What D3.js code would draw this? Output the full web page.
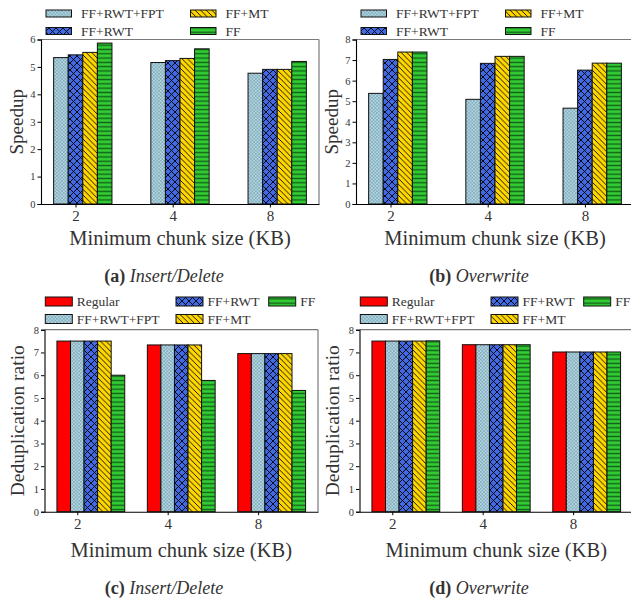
<!DOCTYPE html>
<html>
<head>
<meta charset="utf-8">
<script src="https://cdn.jsdelivr.net/npm/d3@7"></script>
<style>
  html, body { margin: 0; padding: 0; background: #fff; }
  svg { display: block; }
  text { font-family: "Liberation Serif", "Times New Roman", serif; fill: #333; }
</style>
</head>
<body>
<svg id="fig" width="631" height="603"></svg>
<script>
// Minimum chunk sizes (KB) on the x axis
const categories = ["2", "4", "8"];

// Speedup, Insert/Delete workload
const spInsRwtFpt = [5.34, 5.16, 4.77];
const spInsRwt    = [5.44, 5.23, 4.91];
const spInsMt     = [5.53, 5.31, 4.91];
const spInsFf     = [5.87, 5.66, 5.20];

// Speedup, Overwrite workload
const spOvwRwtFpt = [5.38, 5.09, 4.66];
const spOvwRwt    = [7.03, 6.84, 6.51];
const spOvwMt     = [7.39, 7.18, 6.85];
const spOvwFf     = [7.39, 7.18, 6.85];

// Deduplication ratio, Insert/Delete workload
const drInsRegular = [7.50, 7.33, 6.95];
const drInsRwtFpt  = [7.50, 7.33, 6.95];
const drInsRwt     = [7.50, 7.33, 6.95];
const drInsMt      = [7.50, 7.33, 6.95];
const drInsFf      = [6.00, 5.77, 5.33];

// Deduplication ratio, Overwrite workload
const drOvwRegular = [7.50, 7.34, 7.02];
const drOvwRwtFpt  = [7.50, 7.34, 7.02];
const drOvwRwt     = [7.50, 7.34, 7.02];
const drOvwMt      = [7.50, 7.34, 7.02];
const drOvwFf      = [7.51, 7.34, 7.02];

const speedupTicks = [0, 1, 2, 3, 4, 5, 6];
const ratioTicks   = [0, 1, 2, 3, 4, 5, 6, 7, 8];

const svg = d3.select("#fig");
const defs = svg.append("defs");

// ---- hatch patterns ----
function dotsPattern(id, bg) {
  const p = defs.append("pattern").attr("id", id)
    .attr("patternUnits", "userSpaceOnUse").attr("width", 3.4).attr("height", 3.4);
  p.append("rect").attr("width", 3.4).attr("height", 3.4).attr("fill", bg);
  p.append("circle").attr("cx", 0.85).attr("cy", 0.85).attr("r", 0.55).attr("fill", "#4a5a62");
  p.append("circle").attr("cx", 2.55).attr("cy", 2.55).attr("r", 0.55).attr("fill", "#4a5a62");
}
function crossPattern(id, bg) {
  const s = 7;
  const p = defs.append("pattern").attr("id", id)
    .attr("patternUnits", "userSpaceOnUse").attr("width", s).attr("height", s);
  p.append("rect").attr("width", s).attr("height", s).attr("fill", bg);
  p.append("path").attr("d", `M${-1},${-1}L${s + 1},${s + 1}M${-1},${s + 1}L${s + 1},${-1}`)
    .attr("stroke", "#000").attr("stroke-width", 0.9);
}
function backslashPattern(id, bg) {
  const s = 5.6;
  const p = defs.append("pattern").attr("id", id)
    .attr("patternUnits", "userSpaceOnUse").attr("width", s).attr("height", s);
  p.append("rect").attr("width", s).attr("height", s).attr("fill", bg);
  p.append("path").attr("d", `M${-1},${-1}L${s + 1},${s + 1}M${-1},${s - 1}L1,${s + 1}M${s - 1},-1L${s + 1},1`)
    .attr("stroke", "#000").attr("stroke-width", 0.9);
}
function hlinePattern(id, bg) {
  const s = 4.3;
  const p = defs.append("pattern").attr("id", id)
    .attr("patternUnits", "userSpaceOnUse").attr("width", 10).attr("height", s);
  p.append("rect").attr("width", 10).attr("height", s).attr("fill", bg);
  p.append("line").attr("x1", 0).attr("x2", 10).attr("y1", s / 2).attr("y2", s / 2)
    .attr("stroke", "#14601a").attr("stroke-width", 1.4);
}
dotsPattern("hFpt", "#add8e6");
crossPattern("hRwt", "#4169e1");
backslashPattern("hMt", "#ffd700");
hlinePattern("hFf", "#32cd32");

const fills = {
  "Regular": "#ff0000",
  "FF+RWT+FPT": "url(#hFpt)",
  "FF+RWT": "url(#hRwt)",
  "FF+MT": "url(#hMt)",
  "FF": "url(#hFf)"
};

// ---- one subplot ----
function drawPanel(cfg) {
  const g = svg.append("g").attr("transform", `translate(${cfg.ox},0)`);
  const x = d3.scaleLinear().domain(cfg.xDomain).range([cfg.left, cfg.right]);
  const y = d3.scaleLinear().domain([0, cfg.yMax]).range([cfg.bottom, cfg.top]);
  const w = 0.15;

  // bars: second bar of each group centred on the tick
  cfg.series.forEach((s, k) => {
    g.selectAll(null).data(s.values).enter().append("rect")
      .attr("x", (d, i) => x(i + (k - 1) * w - w / 2))
      .attr("width", x(w) - x(0))
      .attr("y", d => y(d))
      .attr("height", d => y(0) - y(d))
      .attr("fill", fills[s.name])
      .attr("stroke", "#111").attr("stroke-width", 1);
  });

  // frame: top/right lighter than the two axes
  g.append("line").attr("x1", cfg.left).attr("x2", cfg.right).attr("y1", cfg.top).attr("y2", cfg.top)
    .attr("stroke", "#7a7a7a").attr("stroke-width", 1.2);
  g.append("line").attr("x1", cfg.right).attr("x2", cfg.right).attr("y1", cfg.top).attr("y2", cfg.bottom)
    .attr("stroke", "#7a7a7a").attr("stroke-width", 1.2);

  // y axis
  const ya = g.append("g").attr("transform", `translate(${cfg.left},0)`)
    .call(d3.axisLeft(y).tickValues(cfg.yTicks).tickFormat(d3.format("d")).tickSize(3.5).tickPadding(2));
  ya.select(".domain").attr("stroke", "#000").attr("stroke-width", 1.1);
  ya.selectAll(".tick line").attr("stroke", "#000");
  ya.selectAll(".tick text").attr("font-family", "Liberation Serif").attr("font-size", 10.5).attr("fill", "#333");

  // x axis
  const xa = g.append("g").attr("transform", `translate(0,${cfg.bottom})`)
    .call(d3.axisBottom(x).tickValues(d3.range(categories.length)).tickFormat(i => categories[i])
      .tickSize(3.5).tickSizeOuter(0).tickPadding(3));
  xa.select(".domain").attr("stroke", "#000").attr("stroke-width", 1.1);
  xa.selectAll(".tick line").attr("stroke", "#000");
  xa.selectAll(".tick text").attr("font-family", "Liberation Serif").attr("font-size", 15).attr("fill", "#333");

  // axis titles
  g.append("text").attr("x", (cfg.left + cfg.right) / 2).attr("y", cfg.xLabelY)
    .attr("text-anchor", "middle").attr("font-size", 20.5).text("Minimum chunk size (KB)");
  g.append("text")
    .attr("transform", `translate(${cfg.yLabelX},${(cfg.top + cfg.bottom) / 2}) rotate(-90)`)
    .attr("text-anchor", "middle").attr("font-size", cfg.yLabelSize).text(cfg.ylabel);

  // legend
  cfg.legend.forEach(it => {
    g.append("rect").attr("x", it.x).attr("y", it.y).attr("width", cfg.patchW).attr("height", cfg.patchH)
      .attr("fill", fills[it.name]).attr("stroke", "#111").attr("stroke-width", 1);
    g.append("text").attr("x", it.x + cfg.patchW + cfg.textGap).attr("y", it.y + cfg.patchH / 2)
      .attr("dy", "0.35em").attr("font-size", 13.5).text(it.name);
  });

  // caption
  const cap = g.append("text").attr("x", cfg.capX).attr("y", cfg.capY)
    .attr("text-anchor", "middle").attr("font-size", 18).attr("fill", "#111");
  cap.append("tspan").attr("font-weight", "bold").text(cfg.capTag + " ");
  cap.append("tspan").attr("font-style", "italic").text(cfg.capText);
}

const topBase = {
  xDomain: [-0.355, 2.505], left: 41, right: 319, top: 39.5, bottom: 204,
  xLabelY: 245, yLabelX: 23, yLabelSize: 19,
  patchW: 25.5, patchH: 7, textGap: 9.5,
  capX: 164, capY: 282
};
const topLegend = [
  { name: "FF+RWT+FPT", x: 46, y: 10 },
  { name: "FF+RWT", x: 46, y: 27.5 },
  { name: "FF+MT", x: 190.5, y: 10 },
  { name: "FF", x: 190.5, y: 27.5 }
];
const botBase = {
  xDomain: [-0.3625, 2.6625], left: 44.5, right: 318, top: 329.7, bottom: 511.7,
  xLabelY: 557, yLabelX: 24, yLabelSize: 19.5,
  patchW: 27, patchH: 9, textGap: 4.5,
  capX: 164, capY: 594
};
const botLegend = [
  { name: "Regular", x: 45.3, y: 297 },
  { name: "FF+RWT+FPT", x: 45.3, y: 314.5 },
  { name: "FF+RWT", x: 176, y: 297 },
  { name: "FF+MT", x: 176, y: 314.5 },
  { name: "FF", x: 268.7, y: 297 }
];

drawPanel(Object.assign({}, topBase, {
  ox: 0, yMax: 6, yTicks: speedupTicks, ylabel: "Speedup", legend: topLegend,
  capTag: "(a)", capText: "Insert/Delete",
  series: [
    { name: "FF+RWT+FPT", values: spInsRwtFpt },
    { name: "FF+RWT", values: spInsRwt },
    { name: "FF+MT", values: spInsMt },
    { name: "FF", values: spInsFf }
  ]
}));
drawPanel(Object.assign({}, topBase, {
  ox: 315, yMax: 8, yTicks: ratioTicks, ylabel: "Speedup", legend: topLegend,
  capTag: "(b)", capText: "Overwrite",
  series: [
    { name: "FF+RWT+FPT", values: spOvwRwtFpt },
    { name: "FF+RWT", values: spOvwRwt },
    { name: "FF+MT", values: spOvwMt },
    { name: "FF", values: spOvwFf }
  ]
}));
drawPanel(Object.assign({}, botBase, {
  ox: 0, yMax: 8, yTicks: ratioTicks, ylabel: "Deduplication ratio", legend: botLegend,
  capTag: "(c)", capText: "Insert/Delete",
  series: [
    { name: "Regular", values: drInsRegular },
    { name: "FF+RWT+FPT", values: drInsRwtFpt },
    { name: "FF+RWT", values: drInsRwt },
    { name: "FF+MT", values: drInsMt },
    { name: "FF", values: drInsFf }
  ]
}));
drawPanel(Object.assign({}, botBase, {
  ox: 315, yMax: 8, yTicks: ratioTicks, ylabel: "Deduplication ratio", legend: botLegend,
  capTag: "(d)", capText: "Overwrite",
  series: [
    { name: "Regular", values: drOvwRegular },
    { name: "FF+RWT+FPT", values: drOvwRwtFpt },
    { name: "FF+RWT", values: drOvwRwt },
    { name: "FF+MT", values: drOvwMt },
    { name: "FF", values: drOvwFf }
  ]
}));
</script>
</body>
</html>
